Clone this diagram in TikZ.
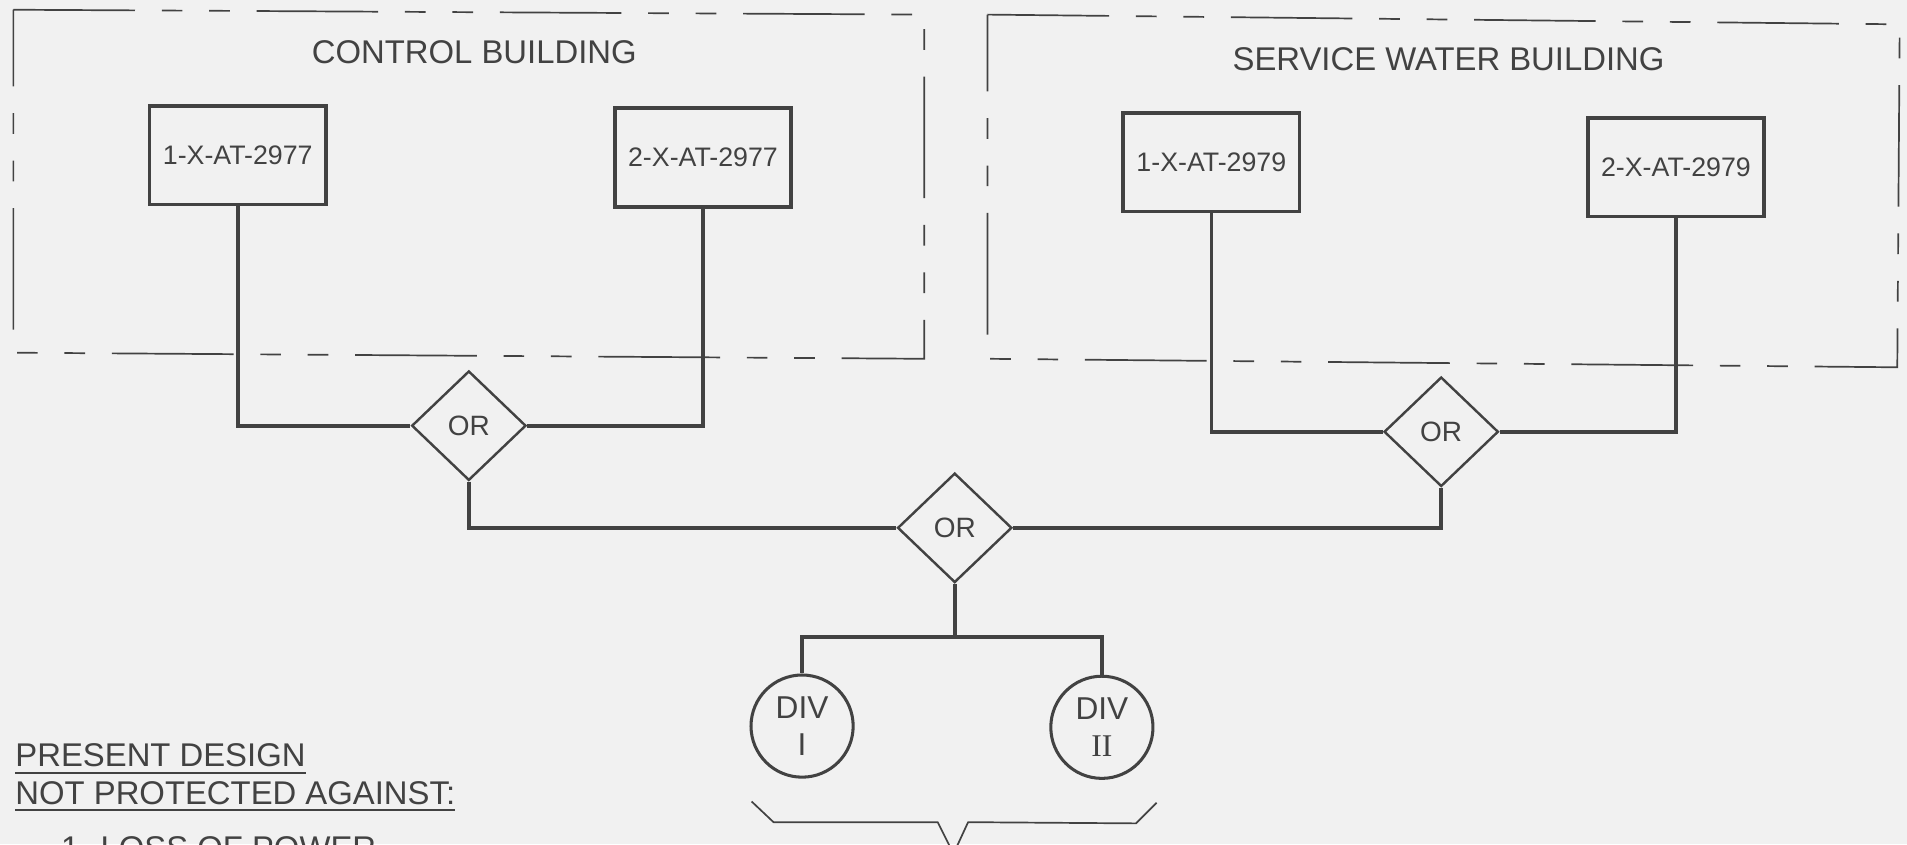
\documentclass[tikz,border=0pt]{standalone}
\usepackage{fontspec}
\setmainfont{Liberation Sans}
\newfontfamily\romanfont{Liberation Serif}
\usetikzlibrary{shapes.geometric}
\definecolor{ink}{RGB}{66,66,66}
\definecolor{paper}{RGB}{241,241,241}
\begin{document}
\begin{tikzpicture}[x=1pt,y=-1pt,
  sensor/.style={draw=ink, line width=3pt, minimum width=145pt, minimum height=81pt, inner sep=0pt, text=ink, font=\fontsize{22}{26}\selectfont},
  orgate/.style={diamond, draw=ink, line width=2pt, minimum width=94pt, minimum height=90pt, inner sep=0pt, text=ink, font=\fontsize{23}{27}\selectfont},
  divnode/.style={circle, draw=ink, line width=2.5pt, minimum size=84pt, inner sep=0pt, align=center, text=ink, font=\fontsize{26}{30}\selectfont},
  bldg/.style={draw=ink, line width=1.4pt, dash pattern=on 100pt off 22pt on 17pt off 22pt on 17pt off 22pt},
  wire/.style={draw=ink, line width=3pt},
  thinline/.style={draw=ink, line width=1.4pt},
  title/.style={text=ink, font=\fontsize{27}{32}\selectfont, inner sep=0pt}
]
\fill[paper] (0,0) rectangle (1568,694);
\path[use as bounding box] (0,0) rectangle (1568,694);
\begin{scope}
\clip (0,0) rectangle (1568,694);

% building outlines
\draw[bldg] (11,8) -- (760,12) -- (760,295) -- (11,290) -- cycle;
\draw[bldg] (812,12) -- (1562,20) -- (1560,302) -- (812,295) -- cycle;
\node[title, anchor=base] (cbt) at (390,52) {CONTROL BUILDING};
\node[title, anchor=base] (swt) at (1191,58) {SERVICE WATER BUILDING};

% sensors
\node[sensor] (b1) at (195.5,127.5) {1-X-AT-2977};
\node[sensor] (b2) at (578,129.5) {2-X-AT-2977};
\node[sensor] (b3) at (996,133.5) {1-X-AT-2979};
\node[sensor] (b4) at (1378,137.5) {2-X-AT-2979};

% OR gates
\node[orgate] (or1) at (385.5,350) {OR};
\node[orgate] (or2) at (1185,355) {OR};
\node[orgate] (orc) at (785,434) {OR};

% divisions
\node[divnode] (d1) at (659.5,597) {DIV\\I};
\node[divnode] (d2) at (906,598) {DIV\\{\romanfont II}};

% wiring
\draw[wire] (b1.south) |- (or1.west);
\draw[wire] (or1.east) -| (b2.south);
\draw[wire] (b3.south) |- (or2.west);
\draw[wire] (or2.east) -| (b4.south);
\draw[wire] (or1.south) |- (orc.west);
\draw[wire] (or2.south) |- (orc.east);
\coordinate (j) at (785,523.5);
\draw[wire] (orc.south) -- (j);
\draw[wire] (d1.north) |- (j) -| (d2.north);

% brace
\coordinate (brl) at (618,659);
\coordinate (brr) at (951,660);
\draw[thinline, line join=round] (brl) -- (636,676) -- (771,676) -- (784,702) -- (796,676) -- (934,677) -- (brr);

% notes
\node[title, anchor=base west] (n1) at (12.5,630.5) {PRESENT DESIGN};
\node[title, anchor=base west] (n2) at (12.5,661.5) {NOT PROTECTED AGAINST:};
\draw[thinline] ([yshift=-5pt]n1.base west) -- ([yshift=-5pt]n1.base east);
\draw[thinline] ([yshift=-4.5pt]n2.base west) -- ([yshift=-4.5pt]n2.base east);
\node[title, anchor=base west] (n3) at (50,707) {1. LOSS OF POWER};
\end{scope}
\end{tikzpicture}
\end{document}
